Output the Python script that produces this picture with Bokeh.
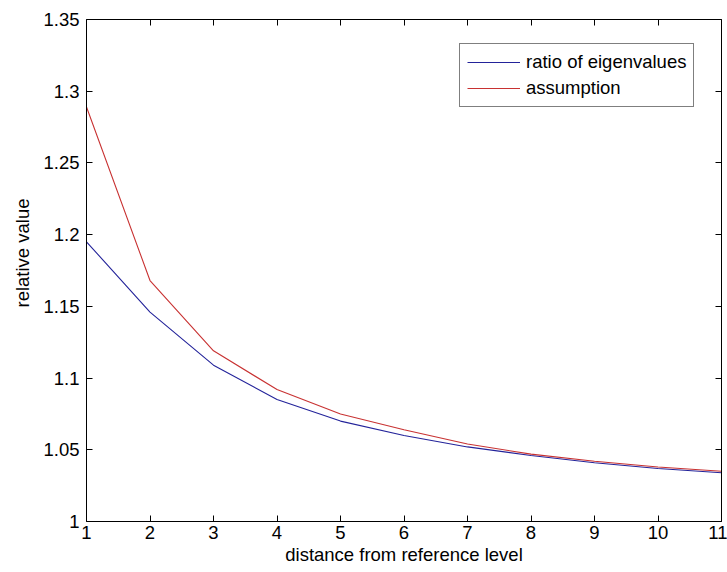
from bokeh.plotting import figure
from bokeh.models import LinearAxis, Range1d, FixedTicker, Legend, LegendItem, CustomJSTickFormatter, Title
from bokeh.embed import file_html
from bokeh.resources import INLINE

distance = [1, 2, 3, 4, 5, 6, 7, 8, 9, 10, 11]
ratio_of_eigenvalues = [1.195, 1.146, 1.109, 1.085, 1.070, 1.060, 1.052, 1.046, 1.041, 1.037, 1.034]
assumption = [1.289, 1.168, 1.119, 1.092, 1.075, 1.064, 1.054, 1.047, 1.042, 1.038, 1.035]
x_ticks = [1, 2, 3, 4, 5, 6, 7, 8, 9, 10, 11]
y_ticks = [1, 1.05, 1.1, 1.15, 1.2, 1.25, 1.3, 1.35]
y_tick_labels = ["1", "1.05", "1.1", "1.15", "1.2", "1.25", "1.3", "1.35"]

FONT = "Liberation Sans"
FS = "18.5px"

p = figure(width=727, height=572, output_backend="svg", toolbar_location=None,
           x_range=Range1d(1, 11), y_range=Range1d(1, 1.35),
           min_border_left=86, min_border_right=6, min_border_top=19, min_border_bottom=51,
           x_axis_label="distance from reference level")
p.outline_line_color = None
p.grid.visible = False
p.background_fill_color = "white"

r1 = p.line(distance, ratio_of_eigenvalues, line_color="#23239a", line_width=1.1)
r2 = p.line(distance, assumption, line_color="#c83232", line_width=1.1)

def style_axis(ax):
    ax.axis_line_color = "black"
    ax.axis_line_width = 1
    ax.major_tick_in = 6
    ax.major_tick_out = 0
    ax.minor_tick_in = 0
    ax.minor_tick_out = 0
    ax.major_tick_line_color = "black"
    ax.major_label_text_font = FONT
    ax.major_label_text_font_size = FS
    ax.major_label_text_color = "black"
    ax.axis_label_text_font = FONT
    ax.axis_label_text_font_size = FS
    ax.axis_label_text_font_style = "normal"
    ax.axis_label_text_color = "black"

p.xaxis.ticker = FixedTicker(ticks=x_ticks)
p.yaxis.ticker = FixedTicker(ticks=y_ticks)
p.yaxis.major_label_overrides = {t: l for t, l in zip(y_ticks, y_tick_labels)}
style_axis(p.xaxis[0])
style_axis(p.yaxis[0])
p.xaxis.major_label_standoff = 4
p.xaxis.axis_label_standoff = 2
p.yaxis.major_label_standoff = 7

# y-axis label placed like MATLAB's (slightly above the axis centre)
ylabel = Title(text="relative value", align="left", offset=214, standoff=15,
               text_font=FONT, text_font_size=FS, text_font_style="normal", text_color="black")
p.add_layout(ylabel, "left")

blank = CustomJSTickFormatter(code="return ''")
top = LinearAxis(ticker=FixedTicker(ticks=x_ticks), formatter=blank)
right = LinearAxis(ticker=FixedTicker(ticks=y_ticks), formatter=blank)
style_axis(top)
style_axis(right)
top.major_label_standoff = 0
right.major_label_standoff = 0
p.add_layout(top, "above")
p.add_layout(right, "right")

legend = Legend(items=[LegendItem(label="ratio of eigenvalues", renderers=[r1]),
                       LegendItem(label="assumption", renderers=[r2])],
                location=(373, 414))
legend.border_line_color = "black"
legend.border_line_width = 1
legend.background_fill_color = "white"
legend.background_fill_alpha = 1
legend.label_text_font = FONT
legend.label_text_font_size = FS
legend.label_text_color = "black"
legend.padding = 7
legend.spacing = 4
legend.margin = 0
legend.glyph_width = 53
legend.glyph_height = 22
legend.label_height = 22
legend.label_standoff = 6
p.add_layout(legend, "center")

open("out.html", "w").write(file_html(p, INLINE))
